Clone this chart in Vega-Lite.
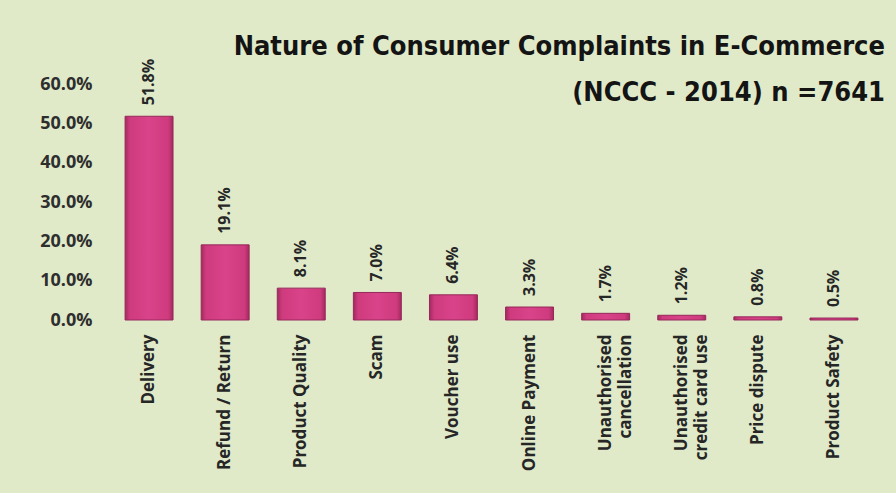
{
  "$schema": "https://vega.github.io/schema/vega-lite/v6.json",
  "autosize": "none",
  "width": 781,
  "height": 236,
  "padding": {"left": 101, "top": 84, "right": 14, "bottom": 173},
  "background": "#e0eac9",
  "config": {"view": {"stroke": null}},
  "title": {
    "text": ["Nature of Consumer Complaints in E-Commerce", "(NCCC - 2014) n =7641"],
    "anchor": "end",
    "frame": "group",
    "font": "DejaVu Sans Condensed, Roboto",
    "fontWeight": "bold",
    "fontSize": 27,
    "lineHeight": 46,
    "color": "#141414",
    "offset": 0,
    "dx": 3,
    "dy": 48
  },
  "data": {
    "values": [
      {"category": "Delivery", "share": 0.518},
      {"category": "Refund / Return", "share": 0.191},
      {"category": "Product Quality", "share": 0.081},
      {"category": "Scam", "share": 0.070},
      {"category": "Voucher use", "share": 0.064},
      {"category": "Online Payment", "share": 0.033},
      {"category": "Unauthorised|cancellation", "share": 0.017},
      {"category": "Unauthorised|credit card use", "share": 0.012},
      {"category": "Price dispute", "share": 0.008},
      {"category": "Product Safety", "share": 0.005}
    ]
  },
  "encoding": {
    "x": {
      "field": "category",
      "type": "nominal",
      "sort": null,
      "scale": {"paddingInner": 0.37, "paddingOuter": 0.3165},
      "axis": {
        "title": null,
        "labelAngle": -90,
        "labelExpr": "split(datum.label, '|')",
        "labelFont": "Open Sans",
        "labelFontWeight": "bold",
        "labelFontSize": 17,
        "labelColor": "#262626",
        "labelLineHeight": 20,
        "labelPadding": 14,
        "ticks": false,
        "domain": false,
        "labelLimit": 200
      }
    },
    "y": {
      "field": "share",
      "type": "quantitative",
      "scale": {"domain": [0, 0.6]},
      "axis": {
        "title": null,
        "format": ".1%",
        "values": [0, 0.1, 0.2, 0.3, 0.4, 0.5, 0.6],
        "grid": false,
        "ticks": false,
        "domain": false,
        "labelFont": "Open Sans",
        "labelFontWeight": "bold",
        "labelFontSize": 18,
        "labelColor": "#2e2e2e",
        "labelPadding": 9
      }
    }
  },
  "layer": [
    {
      "mark": {
        "type": "bar",
        "stroke": "#96285a",
        "strokeWidth": 1,
        "fill": {
          "gradient": "linear",
          "x1": 0, "y1": 0, "x2": 1, "y2": 0,
          "stops": [
            {"offset": 0, "color": "#a32a5f"},
            {"offset": 0.1, "color": "#cf3b7e"},
            {"offset": 0.5, "color": "#d9438a"},
            {"offset": 0.9, "color": "#cf3b7e"},
            {"offset": 1, "color": "#a32a5f"}
          ]
        }
      }
    },
    {
      "mark": {
        "type": "text",
        "angle": 270,
        "align": "left",
        "baseline": "middle",
        "dx": 11,
        "font": "Open Sans",
        "fontWeight": "bold",
        "fontSize": 16,
        "color": "#262626"
      },
      "encoding": {
        "text": {"field": "share", "type": "quantitative", "format": ".1%"}
      }
    }
  ]
}
